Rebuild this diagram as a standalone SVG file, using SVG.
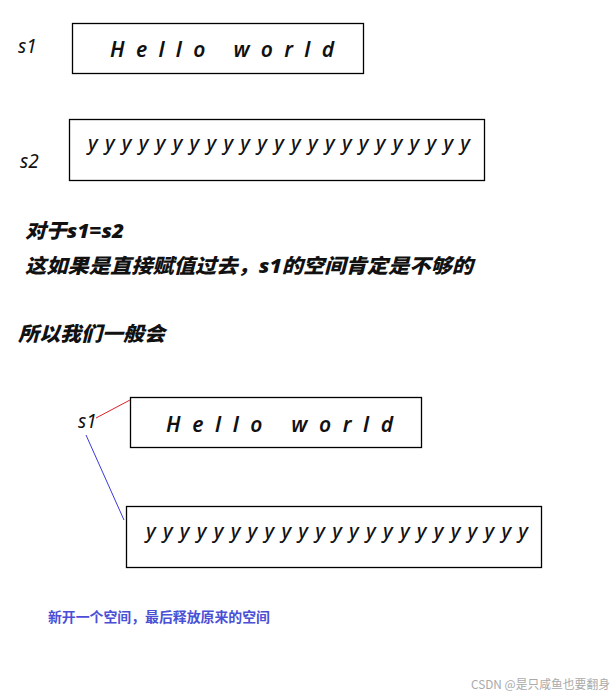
<svg xmlns="http://www.w3.org/2000/svg" width="613" height="696" viewBox="0 0 613 696">
<style>
.box{fill:#fff;stroke:#000;stroke-width:1.3}
.lbl{font-family:"Noto Sans","Liberation Sans",sans-serif;font-style:italic;font-size:19px;fill:#111}
.hw{font-family:"Noto Sans","Liberation Sans",sans-serif;font-style:italic;font-weight:600;font-size:21px;fill:#111;white-space:pre}
.yy{font-family:"Noto Sans","Liberation Sans",sans-serif;font-style:italic;font-weight:500;font-size:20px;fill:#111}
.cn{font-family:"Noto Sans","Noto Sans CJK SC",sans-serif;font-style:italic;font-weight:900;font-size:20px;fill:#111}
.blue{font-family:"Noto Sans CJK SC",sans-serif;font-weight:bold;font-size:14px;fill:#4b4fd6}
.wm{font-family:"Noto Sans CJK SC",sans-serif;font-size:12px;fill:#aaa}
</style>
<rect width="613" height="696" fill="#fff"/>
<g id="s1-top">
<text class="lbl" x="18" y="53">s1</text>
<rect class="box" x="72.5" y="23.5" width="291" height="50"/>
<text class="hw" x="110" y="57" textLength="224" lengthAdjust="spacing" xml:space="preserve">H e l l o   w o r l d</text>
</g>
<g id="s2-top">
<text class="lbl" x="20" y="168">s2</text>
<rect class="box" x="69.5" y="119.5" width="415" height="61"/>
<text class="yy" x="88" y="150" textLength="382" lengthAdjust="spacing">yyyyyyyyyyyyyyyyyyyyyyy</text>
</g>
<g id="notes">
<text class="cn" x="25" y="238" textLength="99" lengthAdjust="spacingAndGlyphs">对于s1=s2</text>
<text class="cn" x="25" y="273" textLength="448" lengthAdjust="spacingAndGlyphs">这如果是直接赋值过去，s1的空间肯定是不够的</text>
<text class="cn" x="18" y="341" textLength="147" lengthAdjust="spacingAndGlyphs">所以我们一般会</text>
</g>
<g id="s1-bottom">
<text class="lbl" x="78" y="428">s1</text>
</g>
<g id="hello-box">
<rect class="box" x="130.5" y="397.5" width="291" height="50"/>
<text class="hw" x="166" y="432" textLength="227" lengthAdjust="spacing" xml:space="preserve">H e l l o   w o r l d</text>
</g>
<g id="y-box">
<rect class="box" x="126.5" y="506.5" width="415" height="61"/>
<text class="yy" x="146" y="537.5" textLength="382" lengthAdjust="spacing">yyyyyyyyyyyyyyyyyyyyyyy</text>
</g>
<g id="connectors">
<line x1="96" y1="418" x2="130" y2="400" stroke="#e0202a" stroke-width="1"/>
<line x1="86" y1="435" x2="124" y2="520" stroke="#3a3ad8" stroke-width="1"/>
</g>
<g id="caption">
<text class="blue" x="48" y="622" textLength="222" lengthAdjust="spacingAndGlyphs">新开一个空间，最后释放原来的空间</text>
</g>
<g id="watermark">
<text class="wm" x="471" y="689" textLength="139" lengthAdjust="spacingAndGlyphs">CSDN @是只咸鱼也要翻身</text>
</g>
</svg>
